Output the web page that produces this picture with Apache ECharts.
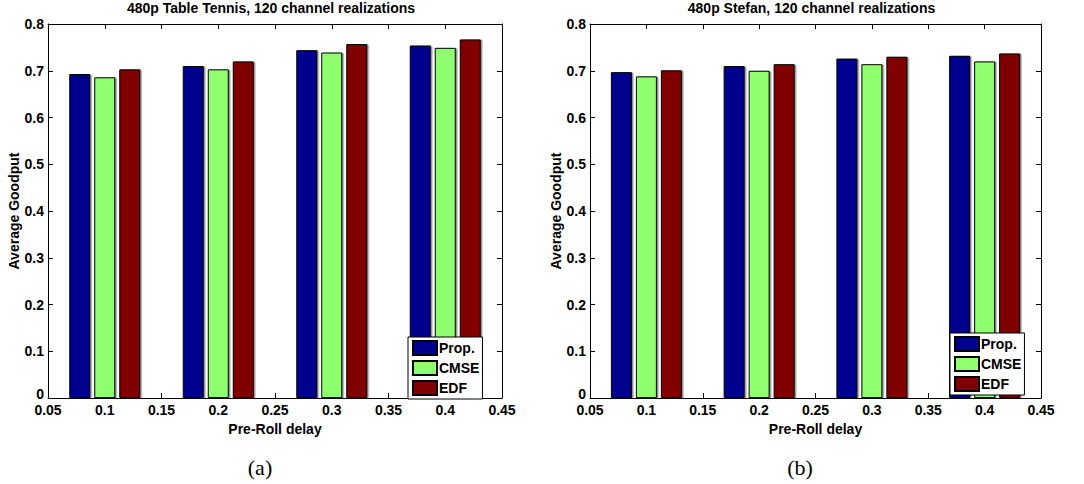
<!DOCTYPE html>
<html>
<head>
<meta charset="utf-8">
<script src="https://cdn.jsdelivr.net/npm/echarts@6/dist/echarts.min.js"></script>
<style>
html,body{margin:0;padding:0;background:#fff;}
#c{width:1084px;height:484px;}
</style>
</head>
<body>
<div id="c"></div>
<script>
// ---- data ----
const delays = [0.1, 0.2, 0.3, 0.4];
const seriesNames = ['Prop.', 'CMSE', 'EDF'];
// (a) 480p Table Tennis
const tennisProp = [0.693, 0.710, 0.744, 0.754];
const tennisCMSE = [0.686, 0.703, 0.739, 0.749];
const tennisEDF  = [0.703, 0.720, 0.757, 0.767];
// (b) 480p Stefan
const stefanProp = [0.697, 0.710, 0.726, 0.732];
const stefanCMSE = [0.688, 0.700, 0.714, 0.720];
const stefanEDF  = [0.701, 0.714, 0.730, 0.737];
const titles = ['480p Table Tennis, 120 channel realizations', '480p Stefan, 120 channel realizations'];
const captions = ['(a)', '(b)'];
const xTicks = {min: 0.05, max: 0.45, interval: 0.05};
const yTicks = {min: 0, max: 0.8, interval: 0.1};
const xName = 'Pre-Roll delay';
const yName = 'Average Goodput';

const colors = ['#00008F', '#8FFF70', '#800000'];
const FONT = 'Liberation Sans, Arial, sans-serif';

const grids = [
  {left: 48, top: 24, width: 454, height: 374},
  {left: 590, top: 24, width: 451, height: 374}
];
const fmt = v => String(+(+v).toFixed(2));
const yFmt = v => (+v === 0 ? '{z|0}' : fmt(v));

const xAxes = [], yAxes = [], series = [], legends = [], graphics = [];
const panels = [
  [tennisProp, tennisCMSE, tennisEDF],
  [stefanProp, stefanCMSE, stefanEDF]
];
const legendPos = [{left: 408, top: 337}, {left: 950, top: 333}];

grids.forEach((g, i) => {
  // bottom x axis
  xAxes.push({
    type: 'value', gridIndex: i, position: 'bottom',
    min: xTicks.min, max: xTicks.max, interval: xTicks.interval,
    name: xName, nameLocation: 'middle', nameGap: 18,
    nameTextStyle: {fontFamily: FONT, fontWeight: 'bold', fontSize: 14, color: '#000'},
    axisLine: {show: true, onZero: false, lineStyle: {color: '#000', width: 1}},
    axisTick: {show: true, inside: true, length: 5, lineStyle: {color: '#000'}},
    axisLabel: {show: true, margin: 6, lineHeight: 12, formatter: fmt, fontFamily: FONT, fontWeight: 'bold', fontSize: 14, color: '#000', showMinLabel: true, showMaxLabel: true},
    splitLine: {show: false}
  });
  // top x axis (box)
  xAxes.push({
    type: 'value', gridIndex: i, position: 'top',
    min: xTicks.min, max: xTicks.max, interval: xTicks.interval,
    axisLine: {show: true, onZero: false, lineStyle: {color: '#000', width: 1}},
    axisTick: {show: true, inside: true, length: 5, lineStyle: {color: '#000'}},
    axisLabel: {show: false},
    splitLine: {show: false}
  });
  yAxes.push({
    type: 'value', gridIndex: i, position: 'left',
    min: yTicks.min, max: yTicks.max, interval: yTicks.interval,
    name: yName, nameLocation: 'middle', nameGap: 26, nameRotate: 90,
    nameTextStyle: {fontFamily: FONT, fontWeight: 'bold', fontSize: 14, color: '#000'},
    axisLine: {show: true, onZero: false, lineStyle: {color: '#000', width: 1}},
    axisTick: {show: true, inside: true, length: 5, lineStyle: {color: '#000'}},
    axisLabel: {show: true, margin: 4, lineHeight: 12, formatter: yFmt, fontFamily: FONT, fontWeight: 'bold', fontSize: 14, color: '#000',
      rich: {z: {fontFamily: FONT, fontWeight: 'bold', fontSize: 14, color: '#000', lineHeight: 12, padding: [0, 0, 8, 0]}}},
    splitLine: {show: false}
  });
  yAxes.push({
    type: 'value', gridIndex: i, position: 'right',
    min: yTicks.min, max: yTicks.max, interval: yTicks.interval,
    axisLine: {show: true, onZero: false, lineStyle: {color: '#000', width: 1}},
    axisTick: {show: true, inside: true, length: 5, lineStyle: {color: '#000'}},
    axisLabel: {show: false},
    splitLine: {show: false}
  });
  panels[i].forEach((vals, k) => {
    series.push({
      type: 'bar', name: seriesNames[k],
      xAxisIndex: i * 2, yAxisIndex: i * 2,
      barWidth: 21, barGap: '19%',
      data: delays.map((d, j) => [d, vals[j]]),
      itemStyle: {color: colors[k], borderColor: '#000', borderWidth: 1,
        shadowColor: 'rgba(0,0,0,0.45)', shadowOffsetX: 1.5, shadowOffsetY: 0.5, shadowBlur: 0},
      emphasis: {disabled: true},
      animation: false
    });
  });
  legends.push({
    show: true, orient: 'vertical', left: legendPos[i].left, top: legendPos[i].top,
    data: seriesNames, icon: 'rect',
    itemWidth: 24, itemHeight: 14, itemGap: 4, padding: [3, 3, 3, 4],
    backgroundColor: '#fff', borderColor: '#000', borderWidth: 1, borderRadius: 0,
    textStyle: {fontFamily: FONT, fontWeight: 'bold', fontSize: 14, color: '#000', padding: [0, 0, 0, -3]},
    selectedMode: false
  });
  graphics.push({
    type: 'text', x: g.left + g.width / 2 - 4, y: 8,
    style: {text: titles[i], fontFamily: FONT, fontWeight: 'bold', fontSize: 14, fill: '#000', align: 'center', verticalAlign: 'middle'}
  });
  graphics.push({
    type: 'text', x: (i === 0 ? 260 : 800), y: 467,
    style: {text: captions[i], fontFamily: 'Liberation Serif, DejaVu Serif, serif', fontSize: 22, fill: '#000', align: 'center', verticalAlign: 'middle'}
  });
});

const chart = echarts.init(document.getElementById('c'), null, {renderer: 'svg'});
chart.setOption({
  animation: false,
  backgroundColor: '#fff',
  grid: grids,
  xAxis: xAxes,
  yAxis: yAxes,
  legend: legends,
  series: series,
  graphic: graphics
});
</script>
</body>
</html>
